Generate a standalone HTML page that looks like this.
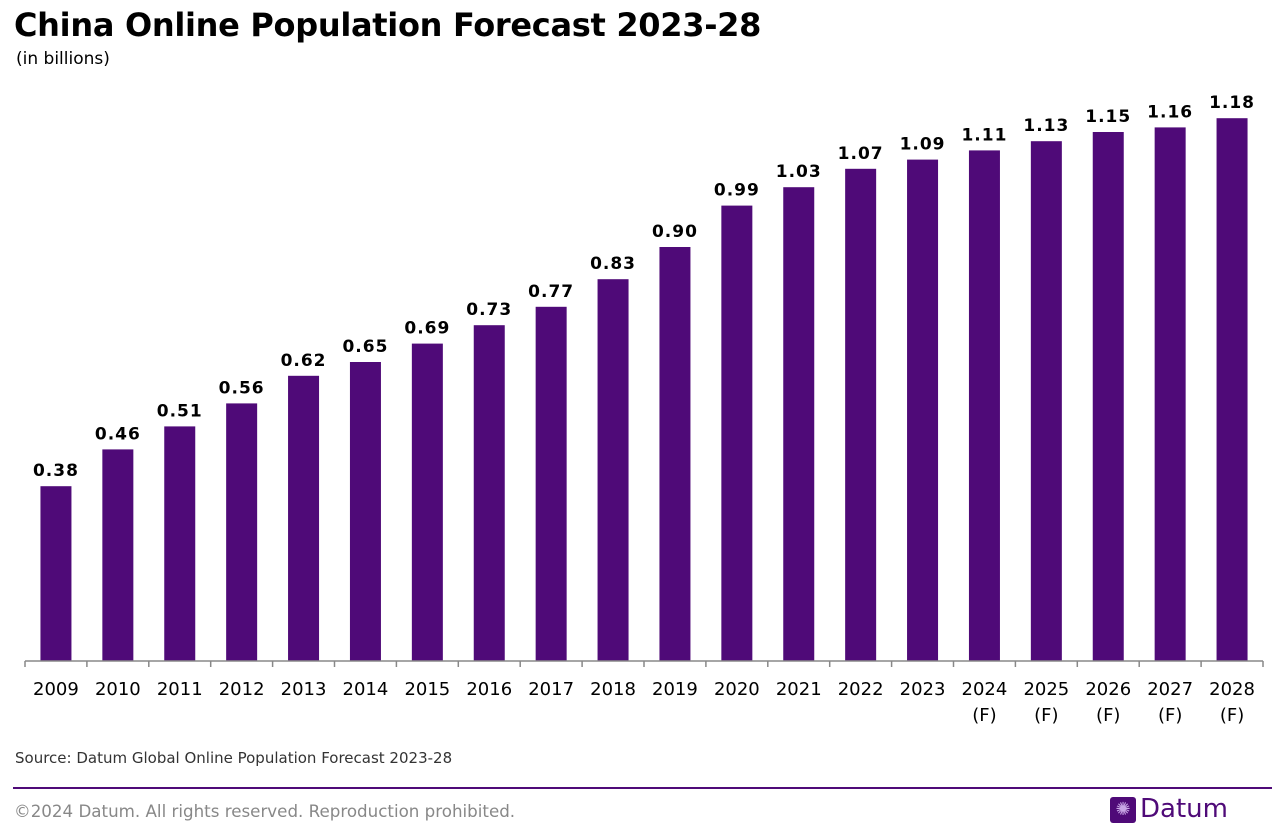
<!DOCTYPE html>
<html><head><meta charset="utf-8"><style>
body{margin:0;width:1272px;height:838px;background:#fff;font-family:"DejaVu Sans","Liberation Sans",sans-serif;overflow:hidden;position:relative}
.t{position:absolute}
</style></head><body>
<div class="t" style="left:14px;top:6px;font-size:32px;font-weight:bold;color:#000;letter-spacing:-0.3px">China Online Population Forecast 2023-28</div>
<div class="t" style="left:16px;top:49px;font-size:17px;color:#000">(in billions)</div>
<svg class="t" style="left:0;top:0" width="1272" height="760" id="chart"></svg>
<div class="t" style="left:15px;top:749px;font-size:15px;color:#333">Source: Datum Global Online Population Forecast 2023-28</div>
<div class="t" style="left:13px;top:787px;width:1259px;height:2px;background:#4f0a78"></div>
<div class="t" style="left:14px;top:801px;font-size:16.7px;color:#888">©2024 Datum. All rights reserved. Reproduction prohibited.</div>
<div class="t" style="left:1110px;top:797px;width:26px;height:26px;background:#4f0a78;border-radius:3px;color:#c9a6e6;font-size:18px;line-height:26px;text-align:center">✺</div>
<div class="t" style="left:1140px;top:794px;font-size:26px;color:#4f0a78">Datum</div>
<script>
const categories=["2009","2010","2011","2012","2013","2014","2015","2016","2017","2018","2019","2020","2021","2022","2023","2024","2025","2026","2027","2028"];
const forecast=[0,0,0,0,0,0,0,0,0,0,0,0,0,0,0,1,1,1,1,1];
const values=[0.38,0.46,0.51,0.56,0.62,0.65,0.69,0.73,0.77,0.83,0.90,0.99,1.03,1.07,1.09,1.11,1.13,1.15,1.16,1.18];
const svg=document.getElementById('chart');
const NS='http://www.w3.org/2000/svg';
const x0=25,x1=1263,base=661,scale=460;
const step=(x1-x0)/categories.length;
const xPos=i=>x0+step*i;
const yPos=v=>base-v*scale;
function mk(t,a){const e=document.createElementNS(NS,t);for(const k in a)e.setAttribute(k,a[k]);svg.appendChild(e);return e;}
categories.forEach((c,i)=>{
  const cx=xPos(i)+step/2,bw=31;
  const r=mk('rect',{x:cx-bw/2,y:yPos(values[i]),width:bw,height:base-yPos(values[i]),fill:'#4f0a78'});
  
  
  const l=mk('text',{x:cx,y:yPos(values[i])-10,'text-anchor':'middle','font-size':17,'font-weight':'bold',fill:'#000','letter-spacing':'1','font-family':'DejaVu Sans, Liberation Sans, sans-serif'});
  l.textContent=values[i].toFixed(2);
  
  
  const tl=mk('text',{x:cx,y:695,'text-anchor':'middle','font-size':18,fill:'#000','font-family':'DejaVu Sans, Liberation Sans, sans-serif'});
  tl.textContent=c;
  
  
  if(forecast[i]){
    const f=mk('text',{x:cx,y:721,'text-anchor':'middle','font-size':18,fill:'#000','font-family':'DejaVu Sans, Liberation Sans, sans-serif'});
    f.textContent='(F)';
    
    
  }
});
for(let i=0;i<=categories.length;i++){
  const t=mk('line',{x1:xPos(i),x2:xPos(i),y1:base,y2:base+6,stroke:'#888','stroke-width':1.5});
  
  
}
const ax=mk('line',{x1:x0,x2:x1,y1:base,y2:base,stroke:'#888','stroke-width':1.5});


</script>
</body></html>
